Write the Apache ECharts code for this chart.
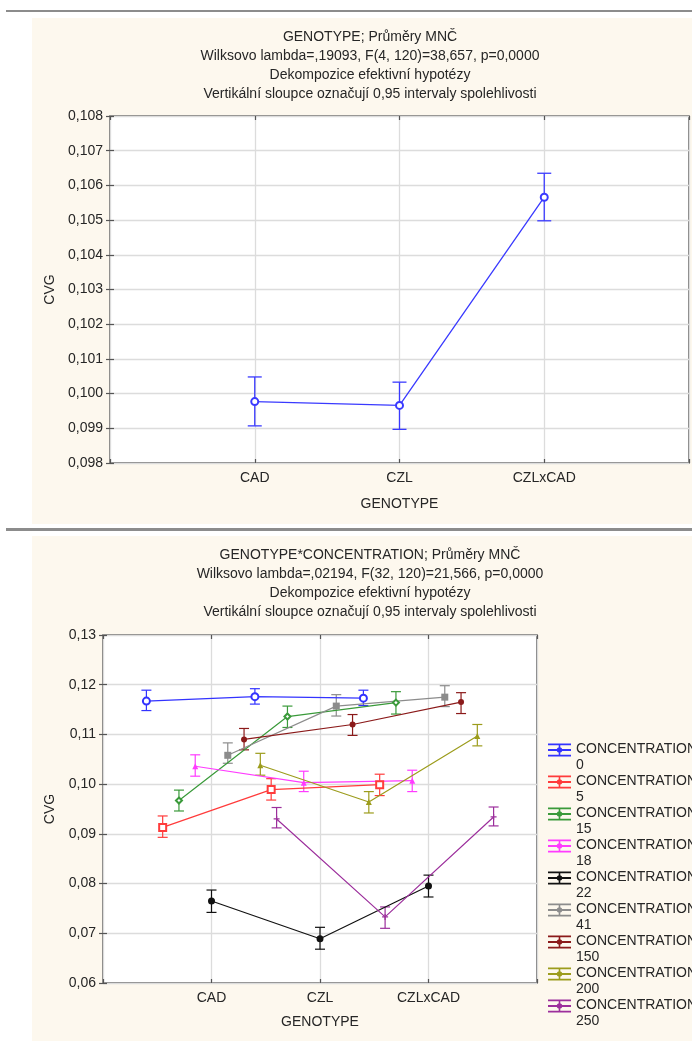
<!DOCTYPE html>
<html><head><meta charset="utf-8">
<script src="https://cdn.jsdelivr.net/npm/echarts@6/dist/echarts.min.js"></script>
<style>
html,body{margin:0;padding:0;background:#fff;width:692px;height:1041px;overflow:hidden;}
#chart{position:absolute;left:0;top:0;width:692px;height:1041px;}
.panel{position:absolute;background:#fdf8ee;}
.rule{position:absolute;background:#8c8c8c;}
</style></head><body>
<div class="rule" style="left:6px;top:10px;width:686px;height:2px"></div>
<div class="panel" style="left:32px;top:18px;width:660px;height:506px"></div>
<div class="rule" style="left:6px;top:528px;width:686px;height:3px"></div>
<div class="panel" style="left:32px;top:536px;width:660px;height:505px"></div>
<div id="chart"></div>
<script>
// ---- data ----
const genotypes = ['CAD', 'CZL', 'CZLxCAD'];
const topTitle = ['GENOTYPE; Průměry MNČ', 'Wilksovo lambda=,19093, F(4, 120)=38,657, p=0,0000', 'Dekompozice efektivní hypotézy', 'Vertikální sloupce označují 0,95 intervaly spolehlivosti'];
const bottomTitle = ['GENOTYPE*CONCENTRATION; Průměry MNČ', 'Wilksovo lambda=,02194, F(32, 120)=21,566, p=0,0000', 'Dekompozice efektivní hypotézy', 'Vertikální sloupce označují 0,95 intervaly spolehlivosti'];
const topMean = [0.09977, 0.09966, 0.10566];
const topLow  = [0.09907, 0.09897, 0.10498];
const topHigh = [0.10048, 0.10033, 0.10635];

const concentrations = ['0', '5', '15', '18', '22', '41', '150', '200', '250'];
const concMean = [
  [0.1167, 0.1176, 0.1173],
  [0.0913, 0.0989, 0.0999],
  [0.0967, 0.1136, 0.1164],
  [0.1036, 0.1003, 0.1007],
  [0.0765, 0.0689, 0.0795],
  [0.1058, 0.1157, 0.1175],
  [0.1090, 0.1120, 0.1165],
  [0.1038, 0.0964, 0.1097],
  [0.0930, 0.0733, 0.0934]
];
const concLow = [
  [0.1148, 0.1161, 0.1158],
  [0.0893, 0.0968, 0.0977],
  [0.0946, 0.1114, 0.1141],
  [0.1016, 0.0985, 0.0985],
  [0.0742, 0.0668, 0.0773],
  [0.1042, 0.1137, 0.1156],
  [0.1069, 0.1098, 0.1142],
  [0.1018, 0.0942, 0.1077],
  [0.0912, 0.0710, 0.0916]
];
const concHigh = [
  [0.1189, 0.1192, 0.1189],
  [0.0936, 0.1011, 0.1020],
  [0.0988, 0.1157, 0.1186],
  [0.1059, 0.1026, 0.1028],
  [0.0787, 0.0712, 0.0817],
  [0.1083, 0.1180, 0.1198],
  [0.1112, 0.1140, 0.1184],
  [0.1062, 0.0985, 0.1120],
  [0.0953, 0.0753, 0.0954]
];

// ---- styles ----
const FONT = "'Liberation Sans', Arial, sans-serif";
const TXT = '#262626';
const concColors = ['#3333ff', '#ff3b3b', '#3a9a3a', '#ff3cff', '#111111', '#8c8c8c', '#8b1a1a', '#9c9c1c', '#9c2f9c'];
const concSymbols = ['emptyCircle', 'emptyRect', 'emptyDiamond', 'triangle', 'circle', 'rect', 'circle', 'triangle', 'path://M4,0H6V10H4Z M0,4H10V6H0Z'];
const concSymbolSizes = [7, 7, 6, 6, 7, 7, 6, 6, 6];
const legendIcon = 'path://M0,0h0.01v0.01h-0.01Z M22.99,31.99h0.01v0.01h-0.01Z ' +
  'M0,2.4H23V4.2H0Z M0,8.1H23V9.9H0Z M0,13.8H23V15.6H0Z M10.7,3H12.3V15H10.7Z ' +
  'M8.8,9a2.7,2.7 0 1,1 5.4,0a2.7,2.7 0 1,1 -5.4,0Z';

function errorBar(capHalf, lw) {
  return function (params, api) {
    const x = api.value(0), lo = api.value(1), hi = api.value(2);
    const a = api.coord([x, hi]), b = api.coord([x, lo]);
    const c = api.visual('color');
    const st = () => ({ stroke: c, lineWidth: lw });
    return { type: 'group', children: [
      { type: 'line', shape: { x1: a[0], y1: a[1], x2: b[0], y2: b[1] }, style: st() },
      { type: 'line', shape: { x1: a[0] - capHalf, y1: a[1], x2: a[0] + capHalf, y2: a[1] }, style: st() },
      { type: 'line', shape: { x1: b[0] - capHalf, y1: b[1], x2: b[0] + capHalf, y2: b[1] }, style: st() }
    ]};
  };
}

const catLabel = v => (v >= 1 && v <= 3 && Math.abs(v - Math.round(v)) < 1e-9) ? genotypes[Math.round(v) - 1] : '';
const labelStyle = { color: TXT, fontSize: 14, fontFamily: FONT };
const splitStyle = { show: true, lineStyle: { color: '#dcdcdc', width: 1.3 } };
const tickStyle = { show: true, inside: true, length: 4, lineStyle: { color: '#555', width: 1.2 } };

function xAxes(gi, nameGap) {
  return [
    { type: 'value', gridIndex: gi, min: 0, max: 4, interval: 1, position: 'bottom',
      axisLine: { show: false }, axisTick: tickStyle, splitLine: splitStyle,
      axisLabel: Object.assign({ formatter: catLabel, margin: 8, showMinLabel: true, showMaxLabel: true }, labelStyle),
      name: 'GENOTYPE', nameLocation: 'middle', nameGap: nameGap, nameTextStyle: labelStyle },
    { type: 'value', gridIndex: gi, min: 0, max: 4, interval: 1, position: 'top',
      axisLine: { show: false }, axisTick: tickStyle, splitLine: { show: false }, axisLabel: { show: false } }
  ];
}
function yAxes(gi, min, max, interval, digits, nameGap) {
  return [
    { type: 'value', gridIndex: gi, min: min, max: max, interval: interval, position: 'left',
      axisLine: { show: false }, axisTick: tickStyle, splitLine: splitStyle,
      axisLabel: Object.assign({ formatter: v => v.toFixed(digits).replace('.', ','), margin: 7 }, labelStyle),
      name: 'CVG', nameLocation: 'middle', nameGap: nameGap, nameRotate: 90, nameTextStyle: labelStyle },
    { type: 'value', gridIndex: gi, min: min, max: max, interval: interval, position: 'right',
      axisLine: { show: false }, axisTick: tickStyle, splitLine: { show: false }, axisLabel: { show: false } }
  ];
}

const series = [];
// top chart
series.push({
  type: 'custom', name: 'top-err', xAxisIndex: 0, yAxisIndex: 0, z: 2,
  itemStyle: { color: '#3a3aff' }, renderItem: errorBar(7, 1.3),
  encode: { x: 0, y: [1, 2] },
  data: genotypes.map((g, i) => [i + 1, topLow[i], topHigh[i]])
});
series.push({
  type: 'line', name: 'top', xAxisIndex: 0, yAxisIndex: 0, z: 3,
  symbol: 'emptyCircle', symbolSize: 7,
  itemStyle: { color: '#3a3aff', borderWidth: 1.3 },
  lineStyle: { color: '#3a3aff', width: 1.3 },
  data: genotypes.map((g, i) => [i + 1, topMean[i]])
});
// bottom chart
const legendNames = [];
concentrations.forEach((c, k) => {
  const name = 'CONCENTRATION ' + c;
  legendNames.push(name);
  const off = (k - 4) * 0.15;
  series.push({
    type: 'line', name: name, xAxisIndex: 2, yAxisIndex: 2, z: 3,
    symbol: concSymbols[k], symbolSize: concSymbolSizes[k],
    itemStyle: { color: concColors[k], borderWidth: 1.2 },
    lineStyle: { color: concColors[k], width: 1.2 },
    data: genotypes.map((g, i) => [i + 1 + off, concMean[k][i]])
  });
  series.push({
    type: 'custom', name: name, xAxisIndex: 2, yAxisIndex: 2, z: 2,
    itemStyle: { color: concColors[k] }, renderItem: errorBar(5, 1.2),
    encode: { x: 0, y: [1, 2] },
    data: genotypes.map((g, i) => [i + 1 + off, concLow[k][i], concHigh[k][i]])
  });
});

const titleStyle = { color: TXT, fontSize: 14, fontWeight: 'normal', fontFamily: FONT, lineHeight: 19 };
const option = {
  animation: false,
  backgroundColor: 'transparent',
  title: [
    { text: topTitle.join('\n'), left: 370, top: 28, textAlign: 'center', padding: 0, textStyle: titleStyle },
    { text: bottomTitle.join('\n'), left: 370, top: 546, textAlign: 'center', padding: 0, textStyle: titleStyle }
  ],
  grid: [
    { left: 110, top: 116, width: 579, height: 347, show: true, backgroundColor: '#ffffff', borderColor: '#5a5a5a', borderWidth: 1.5 },
    { left: 103, top: 635, width: 434, height: 348, show: true, backgroundColor: '#ffffff', borderColor: '#5a5a5a', borderWidth: 1.5 }
  ],
  xAxis: xAxes(0, 34).concat(xAxes(1, 32)),
  yAxis: yAxes(0, 0.098, 0.108, 0.001, 3, 53).concat(yAxes(1, 0.06, 0.13, 0.01, 2, 46)),
  legend: {
    data: legendNames, orient: 'vertical', left: 548, top: 741, padding: 0,
    itemWidth: 23, itemHeight: 32, itemGap: 0, icon: legendIcon,
    itemStyle: { borderWidth: 0 },
    selectedMode: false,
    formatter: n => n.replace(' ', '\n'),
    textStyle: { color: TXT, fontSize: 14, fontFamily: FONT, lineHeight: 16 }
  },
  series: series
};
const chart = echarts.init(document.getElementById('chart'), null, { renderer: 'canvas' });
chart.setOption(option);
</script>
</body></html>
